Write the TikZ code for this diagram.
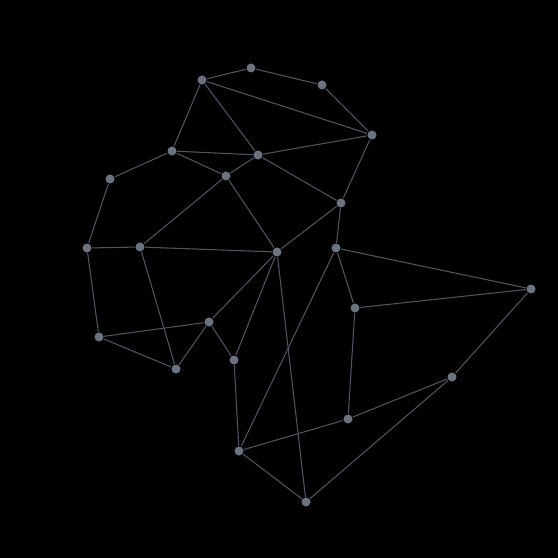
\documentclass[tikz,border=0pt]{standalone}
\usepackage{tikz}

\definecolor{nodegrey}{HTML}{6B7280}
\definecolor{edgegrey}{HTML}{4E5561}

\begin{document}
\begin{tikzpicture}
    [x=0.01cm,y=-0.01cm,every node/.style={circle,fill=nodegrey,inner sep=0pt,minimum size=0.09cm}]
    \fill[black] (0,0) rectangle (558,558);
    \useasboundingbox (0,0) rectangle (558,558);
    \node (a) at (202,80)  {};
    \node (b) at (251,68)  {};
    \node (c) at (322,85)  {};
    \node (d) at (372,135) {};
    \node (e) at (172,151) {};
    \node (f) at (258,155) {};
    \node (g) at (110,179) {};
    \node (h) at (226,176) {};
    \node (i) at (341,203) {};
    \node (j) at (87,248)  {};
    \node (k) at (140,247) {};
    \node (l) at (277,252) {};
    \node (m) at (336,248) {};
    \node (n) at (99,337)  {};
    \node (o) at (209,322) {};
    \node (p) at (176,369) {};
    \node (q) at (234,360) {};
    \node (r) at (355,308) {};
    \node (s) at (239,451) {};
    \node (t) at (348,419) {};
    \node (u) at (306,502) {};
    \node (v) at (531,289) {};
    \node (w) at (452,377) {};

    \foreach \from/\to in {a/b,b/c,c/d,a/d,a/e,a/f,e/f,f/d,e/g,e/h,h/f,f/i,i/d}
    \draw[edgegrey,line width=0.3pt] (\from) -- (\to);

    \foreach \from/\to in {g/j,j/k,k/h,h/l,k/l,l/i,i/m,m/v,m/r,r/v,m/s}
    \draw[edgegrey,line width=0.3pt] (\from) -- (\to);

    \foreach \from/\to in {j/n,k/p,n/o,n/p,p/o,o/l,o/q,q/l,q/s,l/u,r/t,t/s,s/u,u/w,t/w,w/v}
    \draw[edgegrey,line width=0.3pt] (\from) -- (\to);
\end{tikzpicture}
\end{document}
